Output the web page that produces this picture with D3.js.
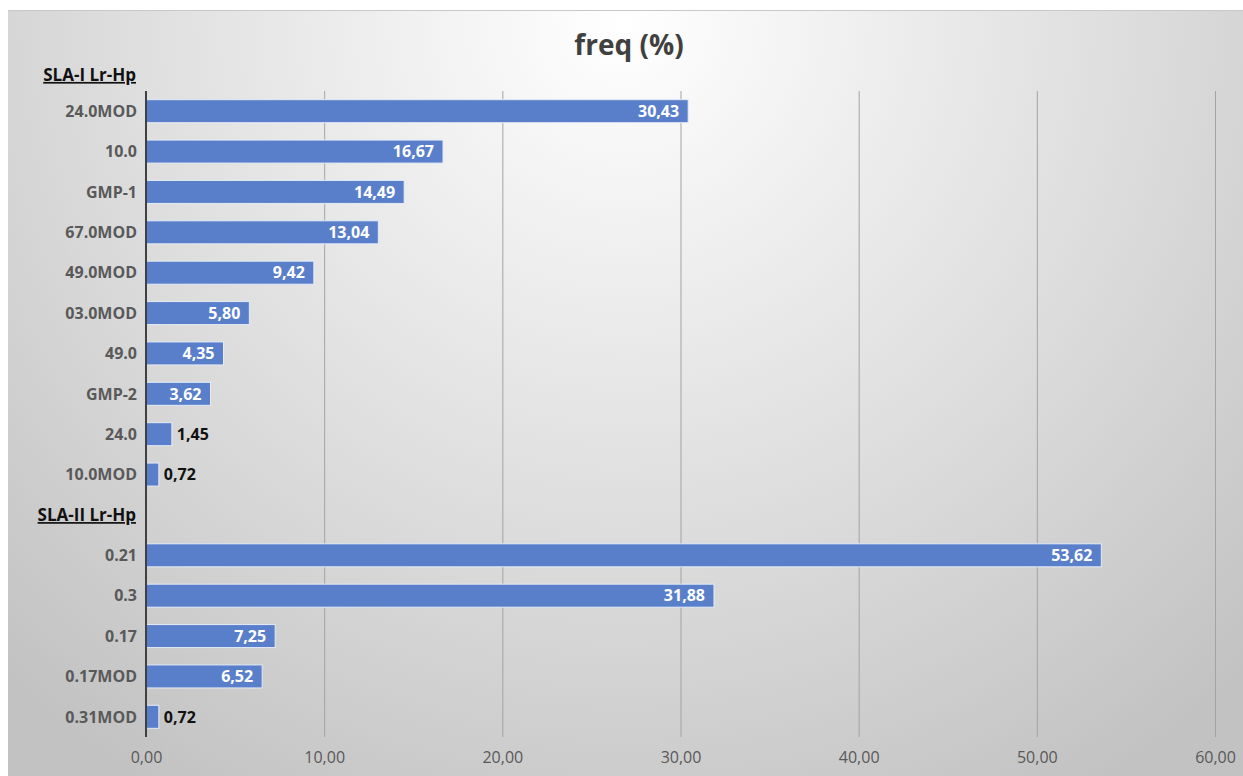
<!DOCTYPE html>
<html lang="en">
<head>
<meta charset="UTF-8">
<title>freq (%)</title>
<script src="https://cdnjs.cloudflare.com/ajax/libs/d3/7.8.5/d3.min.js"></script>
<style>
	body { margin: 0; background: #fff; }
	text { font-family: "Open Sans", "DejaVu Sans", sans-serif; }
	.xaxis text { font-size: 16px; fill: #595959; }
</style>
</head>
<body>
<svg id="chart" width="1243" height="776"></svg>
<script>
// rows from top to bottom; the empty slot holds the second group header
var groupNames = ["SLA-I Lr-Hp", "SLA-II Lr-Hp"];
var categories = ["24.0MOD", "10.0", "GMP-1", "67.0MOD", "49.0MOD", "03.0MOD", "49.0", "GMP-2", "24.0", "10.0MOD",
	"", "0.21", "0.3", "0.17", "0.17MOD", "0.31MOD"];
var values = [30.43, 16.67, 14.49, 13.04, 9.42, 5.80, 4.35, 3.62, 1.45, 0.72,
	null, 53.62, 31.88, 7.25, 6.52, 0.72];
var xTicks = [0, 10, 20, 30, 40, 50, 60];

var svg = d3.select("#chart");
var W = +svg.attr("width"), H = +svg.attr("height");
var m = {left: 146, right: 28, top: 91, bottom: 39};

var defs = svg.append("defs");
var grad = defs.append("radialGradient").attr("id", "bg")
	.attr("gradientUnits", "userSpaceOnUse")
	.attr("cx", 622).attr("cy", 20).attr("r", 900);
grad.append("stop").attr("offset", "0").attr("stop-color", "#ffffff");
grad.append("stop").attr("offset", "0.55").attr("stop-color", "#dedede");
grad.append("stop").attr("offset", "1").attr("stop-color", "#c2c2c2");

svg.append("rect").attr("x", 8).attr("y", 10).attr("width", W - 8).attr("height", H - 10)
	.attr("fill", "url(#bg)");
svg.append("line").attr("x1", 8).attr("x2", W).attr("y1", 10.5).attr("y2", 10.5)
	.attr("stroke", "#c8c8c8");

var x = d3.scaleLinear().domain([0, 60]).range([m.left, W - m.right]);
var y = d3.scaleBand().domain(d3.range(categories.length))
	.range([m.top, H - m.bottom]).paddingInner(0.43).paddingOuter(0.215);

// gridlines
svg.append("g").selectAll("line").data(xTicks.slice(1)).enter().append("line")
	.attr("x1", d => x(d) + 0.5).attr("x2", d => x(d) + 0.5)
	.attr("y1", m.top).attr("y2", H - m.bottom)
	.attr("stroke", "#a3a3a3").attr("stroke-width", 1);

// x axis labels
var fmt = d => d3.format(".2f")(d).replace(".", ",");
var ax = svg.append("g").attr("class", "xaxis").attr("transform", `translate(0,${H - m.bottom})`)
	.call(d3.axisBottom(x).tickValues(xTicks).tickFormat(fmt).tickSize(0).tickPadding(15));
ax.select(".domain").remove();
ax.attr("font-size", 16).attr("font-family", null);

// bars
var rows = categories.map((c, i) => ({c: c, v: values[i], i: i})).filter(d => d.v !== null);
svg.append("g").selectAll("rect").data(rows).enter().append("rect")
	.attr("x", x(0)).attr("y", d => y(d.i))
	.attr("width", d => x(d.v) - x(0)).attr("height", y.bandwidth())
	.attr("fill", "#5a7fca").attr("stroke", "#e4ebf7").attr("stroke-width", 1);

// value labels
svg.append("g").selectAll("text").data(rows).enter().append("text")
	.attr("x", d => d.v < 2 ? x(d.v) + 5 : x(d.v) - 9)
	.attr("y", d => y(d.i) + y.bandwidth() / 2)
	.attr("dy", "0.36em")
	.attr("text-anchor", d => d.v < 2 ? "start" : "end")
	.attr("font-size", 16).attr("font-weight", "bold")
	.attr("fill", d => d.v < 2 ? "#111" : "#fff")
	.text(d => fmt(d.v));

// category labels
svg.append("g").selectAll("text").data(rows).enter().append("text")
	.attr("x", 137).attr("y", d => y(d.i) + y.bandwidth() / 2)
	.attr("dy", "0.36em").attr("text-anchor", "end")
	.attr("font-size", 16).attr("font-weight", "bold").attr("fill", "#595959")
	.text(d => d.c);

// group headers: one above the first row, one in the empty slot
var headerRows = [-1, categories.indexOf("")];
svg.append("g").selectAll("text").data(groupNames).enter().append("text")
	.attr("x", 136)
	.attr("y", (d, i) => y(0) + headerRows[i] * y.step() + y.bandwidth() / 2 + (i === 0 ? 4 : 0))
	.attr("dy", "0.36em").attr("text-anchor", "end")
	.attr("font-size", 17).attr("font-weight", "bold").attr("fill", "#111")
	.attr("text-decoration", "underline")
	.text(d => d);

// y axis line
svg.append("line").attr("x1", x(0)).attr("x2", x(0))
	.attr("y1", m.top).attr("y2", H - m.bottom)
	.attr("stroke", "#404040").attr("stroke-width", 2);

// title
svg.append("text").attr("x", 629).attr("y", 55).attr("text-anchor", "middle")
	.attr("font-size", 28).attr("font-weight", "bold").attr("fill", "#404040")
	.text("freq (%)");
</script>
</body>
</html>
